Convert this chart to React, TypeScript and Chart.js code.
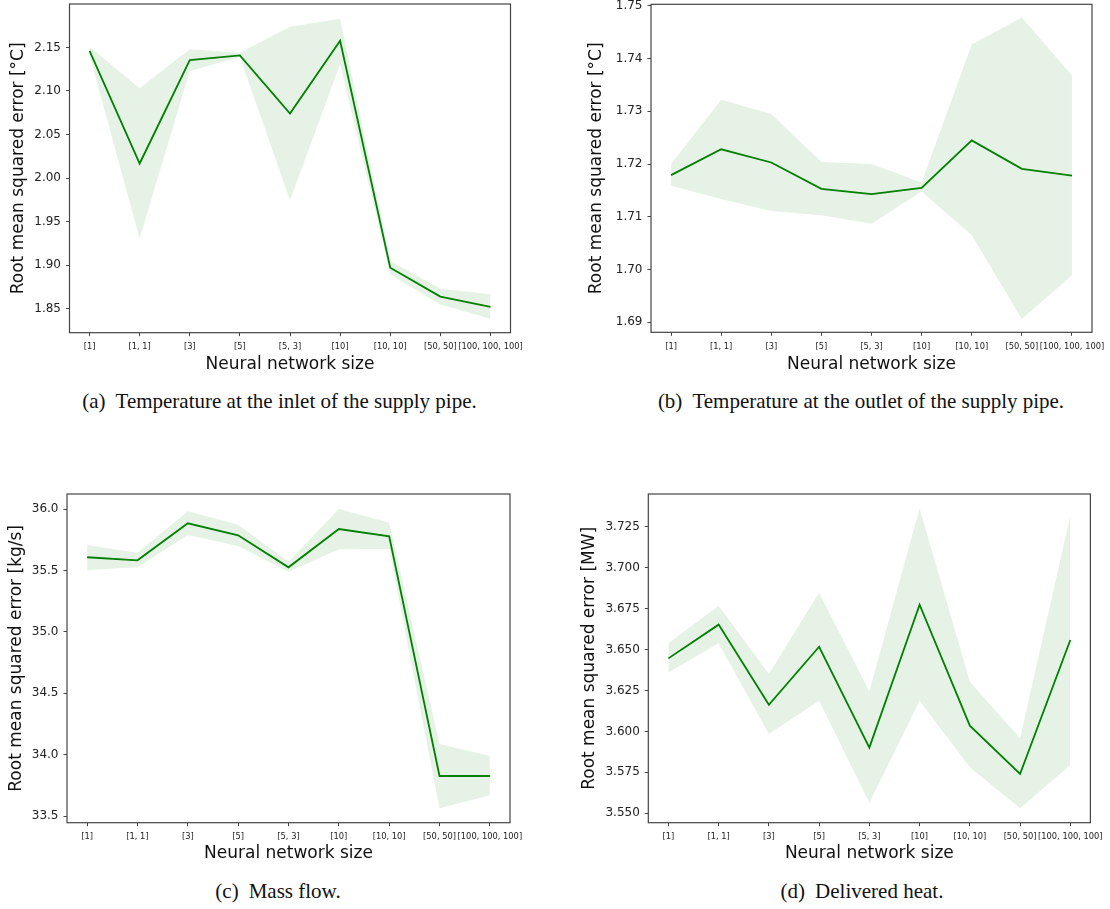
import React, { useEffect, useRef } from 'react';
import { Chart, registerables } from 'chart.js';

Chart.register(...registerables);

// ---------- data ----------
const sizes = ['[1]', '[1, 1]', '[3]', '[5]', '[5, 3]', '[10]', '[10, 10]', '[50, 50]', '[100, 100, 100]'];

const inletMean = [2.146, 2.0167, 2.1354, 2.1408, 2.0741, 2.1576, 1.8971, 1.864, 1.8522];
const inletUpper = [2.1507, 2.1032, 2.148, 2.1438, 2.1737, 2.1829, 1.9047, 1.873, 1.8665];
const inletLower = [2.141, 1.9305, 2.123, 2.139, 1.9745, 2.1308, 1.8894, 1.855, 1.8385];
const inletTicks = [1.85, 1.9, 1.95, 2.0, 2.05, 2.1, 2.15];

const outletMean = [1.7179, 1.7228, 1.7203, 1.7153, 1.7143, 1.7155, 1.7245, 1.7191, 1.7178];
const outletUpper = [1.72, 1.7322, 1.7295, 1.7204, 1.72, 1.7165, 1.7427, 1.7478, 1.7368];
const outletLower = [1.7159, 1.7134, 1.7111, 1.7103, 1.7087, 1.7148, 1.7065, 1.6906, 1.6989];
const outletTicks = [1.69, 1.7, 1.71, 1.72, 1.73, 1.74, 1.75];

const massMean = [35.609, 35.584, 35.886, 35.788, 35.527, 35.839, 35.78, 33.826, 33.826];
const massUpper = [35.709, 35.646, 35.984, 35.875, 35.573, 36.002, 35.891, 34.087, 33.99];
const massLower = [35.505, 35.527, 35.79, 35.701, 35.491, 35.674, 35.676, 33.563, 33.669];
const massTicks = [33.5, 34.0, 34.5, 35.0, 35.5, 36.0];

const heatMean = [3.6446, 3.6652, 3.6163, 3.6517, 3.5901, 3.6774, 3.6035, 3.574, 3.6558];
const heatUpper = [3.6538, 3.6768, 3.6351, 3.6847, 3.6243, 3.7362, 3.6304, 3.5958, 3.7317];
const heatLower = [3.6359, 3.6538, 3.5984, 3.6188, 3.5565, 3.6188, 3.5781, 3.5531, 3.5795];
const heatTicks = [3.55, 3.575, 3.6, 3.625, 3.65, 3.675, 3.7, 3.725];

const xTitle = 'Neural network size';

// ---------- styling ----------
const FONT = 'DejaVu Sans';
const LINE = '#008000';
const BAND = 'rgba(0,128,0,0.1)';
const AXIS = '#444';

const boxPlugin = {
  id: 'axesBox',
  afterDatasetsDraw(chart: any) {
    const { ctx, chartArea: a } = chart;
    ctx.save();
    ctx.strokeStyle = AXIS;
    ctx.lineWidth = 1.2;
    ctx.strokeRect(a.left, a.top, a.right - a.left, a.bottom - a.top);
    ctx.restore();
  },
};

type Geo = {
  L: number; T: number; W: number; H: number;
  cl: number; cr: number; ct: number; cb: number;
  yTitlePad: number; xTitlePad: number;
};

type PanelProps = {
  mean: number[]; upper: number[]; lower: number[];
  yMin: number; yMax: number; yTicks: number[]; decimals: number;
  yTitle: string; geo: Geo;
};

function zeroPad(s: any) {
  s.paddingLeft = 0;
  s.paddingRight = 0;
  s.paddingTop = 0;
  s.paddingBottom = 0;
}

function Panel({ mean, upper, lower, yMin, yMax, yTicks, decimals, yTitle, geo }: PanelProps) {
  const ref = useRef<HTMLCanvasElement | null>(null);
  useEffect(() => {
    if (!ref.current) return;
    const pts = (arr: number[]) => arr.map((y, i) => ({ x: i, y }));
    const chart = new Chart(ref.current, {
      type: 'line',
      data: {
        datasets: [
          {
            data: pts(mean),
            borderColor: LINE,
            borderWidth: 1.8,
            pointRadius: 0,
            tension: 0,
            fill: false,
          },
          {
            data: pts(upper),
            borderWidth: 0,
            borderColor: 'rgba(0,0,0,0)',
            backgroundColor: BAND,
            pointRadius: 0,
            tension: 0,
            fill: '+1',
          },
          {
            data: pts(lower),
            borderWidth: 0,
            borderColor: 'rgba(0,0,0,0)',
            backgroundColor: BAND,
            pointRadius: 0,
            tension: 0,
            fill: false,
          },
        ],
      },
      options: {
        animation: false,
        responsive: false,
        events: [],
        layout: {
          padding: {
            left: 0,
            top: geo.ct - geo.T,
            right: geo.L + geo.W - geo.cr,
            bottom: 0,
          },
        },
        plugins: {
          legend: { display: false },
          tooltip: { enabled: false },
        },
        scales: {
          x: {
            type: 'linear',
            min: -0.4,
            max: 8.4,
            afterBuildTicks: (s: any) => {
              s.ticks = sizes.map((_, i) => ({ value: i }));
            },
            afterFit: (s: any) => {
              s.height = geo.T + geo.H - geo.cb;
              zeroPad(s);
            },
            ticks: {
              autoSkip: false,
              maxRotation: 0,
              minRotation: 0,
              padding: 5.6,
              color: '#222',
              font: { family: FONT, size: 8.3 },
              callback: (v: any) => sizes[Math.round(Number(v))] ?? '',
            },
            grid: {
              display: true,
              drawOnChartArea: false,
              drawTicks: true,
              tickLength: 3.5,
              tickColor: AXIS,
              tickWidth: 1,
            },
            border: { display: false },
            title: {
              display: true,
              text: xTitle,
              color: '#111',
              font: { family: FONT, size: 17 },
              padding: { top: 0, bottom: geo.xTitlePad },
            },
          },
          y: {
            type: 'linear',
            min: yMin,
            max: yMax,
            afterBuildTicks: (s: any) => {
              s.ticks = yTicks.map((v) => ({ value: v }));
            },
            afterFit: (s: any) => {
              s.width = geo.cl - geo.L;
              zeroPad(s);
            },
            ticks: {
              padding: 5,
              color: '#222',
              font: { family: FONT, size: 12 },
              callback: (v: any) => Number(v).toFixed(decimals),
            },
            grid: {
              display: true,
              drawOnChartArea: false,
              drawTicks: true,
              tickLength: 3.5,
              tickColor: AXIS,
              tickWidth: 1,
            },
            border: { display: false },
            title: {
              display: true,
              text: yTitle,
              color: '#111',
              font: { family: FONT, size: 17 },
              padding: { top: geo.yTitlePad, bottom: 0 },
            },
          },
        },
      },
      plugins: [boxPlugin],
    } as any);
    return () => chart.destroy();
  }, []);
  return (
    <canvas
      ref={ref}
      width={geo.W}
      height={geo.H}
      style={{ position: 'absolute', left: geo.L, top: geo.T, width: geo.W, height: geo.H }}
    />
  );
}

function Caption({ label, text, cx, top }: { label: string; text: string; cx: number; top: number }) {
  return (
    <div
      style={{
        position: 'absolute',
        left: cx - 260,
        top,
        width: 520,
        textAlign: 'center',
        fontFamily: '"Liberation Serif", "Times New Roman", serif',
        fontSize: 21,
        lineHeight: '24px',
        color: '#111',
        whiteSpace: 'nowrap',
      }}
    >
      <span style={{ marginRight: 10 }}>{label}</span>
      {text}
    </div>
  );
}

const geoA: Geo = { L: 0, T: 0, W: 550, H: 380, cl: 69.5, cr: 510.5, ct: 4, cb: 332.7, yTitlePad: 8.7, xTitlePad: 5 };
const geoB: Geo = { L: 570, T: 0, W: 540, H: 380, cl: 651, cr: 1092, ct: 4.3, cb: 332.3, yTitlePad: 16.8, xTitlePad: 5 };
const geoC: Geo = { L: 0, T: 490, W: 550, H: 380, cl: 67, cr: 510, ct: 494, cb: 822.7, yTitlePad: 6, xTitlePad: 6 };
const geoD: Geo = { L: 570, T: 490, W: 540, H: 380, cl: 648.3, cr: 1090.4, ct: 494, cb: 822.7, yTitlePad: 9.7, xTitlePad: 6 };

export default function App() {
  return (
    <div style={{ position: 'absolute', left: 0, top: 0, width: 1110, height: 909, background: '#fff', overflow: 'hidden' }}>
      <Panel mean={inletMean} upper={inletUpper} lower={inletLower} yMin={1.8225} yMax={2.1998}
        yTicks={inletTicks} decimals={2} yTitle="Root mean squared error [°C]" geo={geoA} />
      <Panel mean={outletMean} upper={outletUpper} lower={outletLower} yMin={1.6881} yMax={1.7503}
        yTicks={outletTicks} decimals={2} yTitle="Root mean squared error [°C]" geo={geoB} />
      <Panel mean={massMean} upper={massUpper} lower={massLower} yMin={33.4454} yMax={36.1247}
        yTicks={massTicks} decimals={1} yTitle="Root mean squared error [kg/s]" geo={geoC} />
      <Panel mean={heatMean} upper={heatUpper} lower={heatLower} yMin={3.54426} yMax={3.74497}
        yTicks={heatTicks} decimals={3} yTitle="Root mean squared error [MW]" geo={geoD} />
      <Caption label="(a)" text="Temperature at the inlet of the supply pipe." cx={279.5} top={389} />
      <Caption label="(b)" text="Temperature at the outlet of the supply pipe." cx={861} top={389} />
      <Caption label="(c)" text="Mass flow." cx={278} top={879} />
      <Caption label="(d)" text="Delivered heat." cx={862} top={879} />
    </div>
  );
}
